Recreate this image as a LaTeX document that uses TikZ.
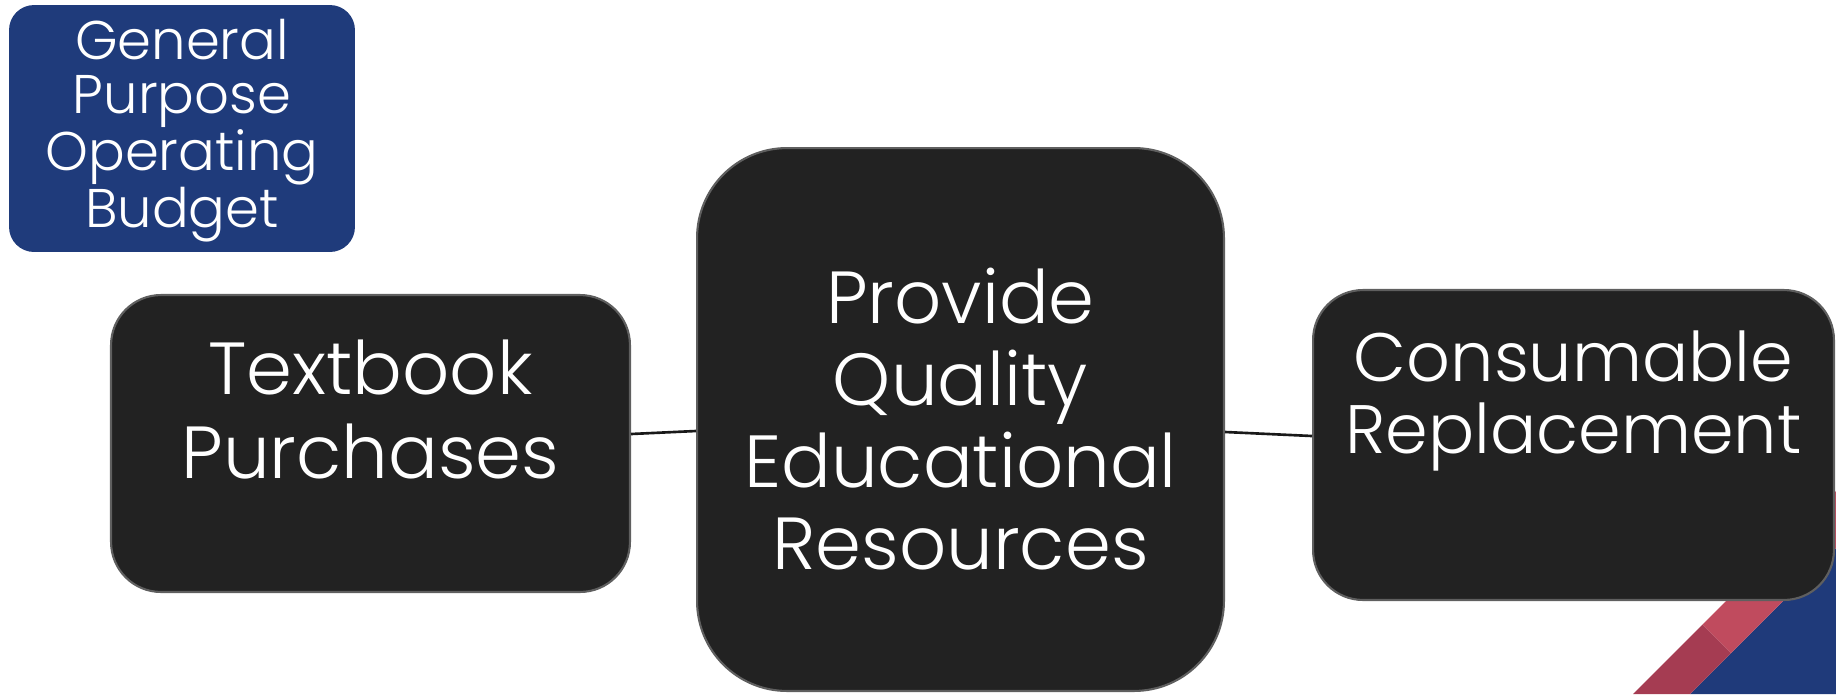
\documentclass[tikz,border=0pt]{standalone}
\usepackage{fontspec}
\setmainfont{Poppins}[UprightFont=* Light]
\definecolor{budget}{HTML}{1F3B7B}
\definecolor{boxfill}{HTML}{222222}
\definecolor{boxline}{HTML}{5F5F5F}
\definecolor{ribblue}{HTML}{1F3A7A}
\definecolor{ribdark}{HTML}{A53C52}
\definecolor{riblight}{HTML}{C04B5E}

\begin{document}
\begin{tikzpicture}[x=0.02cm, y=-0.02cm,
  box/.style={draw=boxline, fill=boxfill, line width=1.2pt, rounded corners=1cm},
  txt/.style={text=white, align=center, inner sep=0pt}]
\useasboundingbox (0,0) rectangle (1836,694);
\fill[ribblue] (1690,694) -- (1836,694) -- (1836,548) -- cycle;
\fill[ribdark] (1633,694) -- (1690,694) -- (1731,653) -- (1702.5,624.5) -- cycle;
\fill[riblight] (1702.5,624.5) -- (1731,653) -- (1836,548) -- (1836,491) -- cycle;
\node[fill=budget, rounded corners=0.5cm, minimum width=6.92cm, minimum height=4.94cm] (gp) at (182,128.5) {};
\node[txt, font=\fontsize{31}{30.7}\selectfont] at ([yshift=-0.04cm]gp.center) {General\\Purpose\\Operating\\Budget};
\node[box, minimum width=10.38cm, minimum height=5.94cm] (tb) at (370.5,443.5) {};
\node[txt, font=\fontsize{42}{48}\selectfont] at ([yshift=0.68cm]tb.center) {Textbook\\Purchases};
\node[box, rounded corners=1.8cm, minimum width=10.54cm, minimum height=10.86cm] (pq) at (960.5,419.5) {};
\node[txt, font=\fontsize{42}{46.7}\selectfont] at (pq.center) {Provide\\Quality\\Educational\\Resources};
\node[box, minimum width=10.42cm, minimum height=6.2cm] (cr) at (1573.5,445) {};
\node[txt, font=\fontsize{39}{41.5}\selectfont] at ([yshift=0.88cm]cr.center) {Consumable\\Replacement};
\draw[line width=1.5pt, black!90] ([yshift=0.19cm]tb.east) -- ([yshift=-0.23cm]pq.west);
\draw[line width=1.5pt, black!90] ([yshift=-0.25cm]pq.east) -- ([yshift=0.18cm]cr.west);
\end{tikzpicture}
\end{document}
